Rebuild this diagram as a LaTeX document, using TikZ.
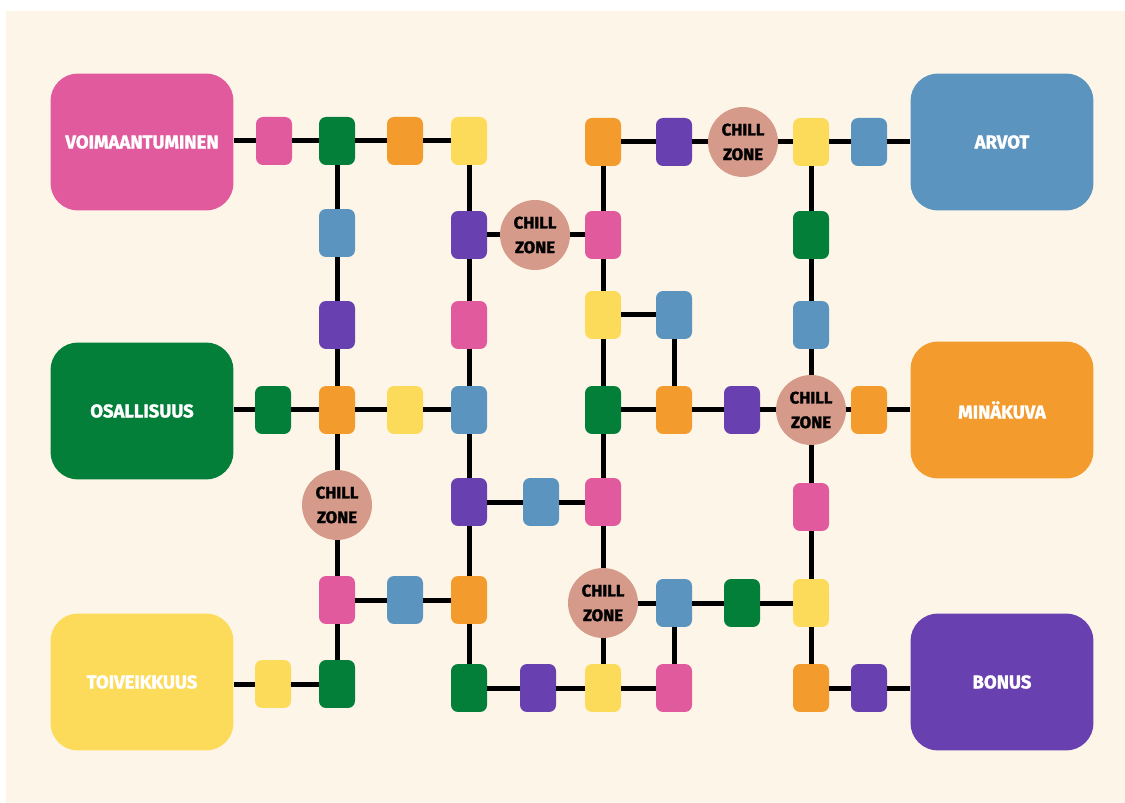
\documentclass[tikz,border=0pt]{standalone}
\usepackage{fontspec}
\setmainfont{Fira Sans}[BoldFeatures={FakeBold=1.6}]
\usepackage{tikz}
\usetikzlibrary{positioning,calc}
\definecolor{cream}{HTML}{FDF6E8}
\definecolor{pinkc}{HTML}{E25A9E}
\definecolor{greenc}{HTML}{037F3A}
\definecolor{orangec}{HTML}{F39B2D}
\definecolor{yellowc}{HTML}{FDDB5A}
\definecolor{bluec}{HTML}{5B94BF}
\definecolor{purplec}{HTML}{6840B0}
\definecolor{chillc}{HTML}{D59A89}

\begin{document}
\begin{tikzpicture}[x=0.02cm, y=-0.02cm, tile/.style = {rectangle, rounded corners=0.14cm, minimum width=0.72cm, minimum height=0.96cm, inner sep=0pt}, chill/.style = {circle, fill=chillc, minimum size=1.4cm, inner sep=0pt, align=center, font=\fontsize{9.5}{14}\selectfont\bfseries}, goal/.style = {rectangle, rounded corners=0.55cm, minimum width=3.66cm, minimum height=2.74cm, text=white, font=\fontsize{10.5}{12}\selectfont\bfseries}, every edge/.append style={line width=0.1cm, black}]

\fill[white] (0,0) rectangle (1125,803);
\fill[cream] (6,11) rectangle (1125,803);

% big boxes
\node[goal, fill = pinkc] (voima) at (142,142) {VOIMAANTUMINEN};
\node[goal, fill = greenc] (osal) at (142,411) {OSALLISUUS};
\node[goal, fill = yellowc] (toive) at (142,682) {TOIVEIKKUUS};
\node[goal, fill = bluec] (arvot) at (1002,142) {ARVOT};
\node[goal, fill = orangec] (mina) at (1002,410) {MINÄKUVA};
\node[goal, fill = purplec] (bonus) at (1002,682) {BONUS};

% tiles
\node[tile, fill = pinkc] (1) at (274,141) {};
\node[tile, fill = greenc] (2) at (337,141) {};
\node[tile, fill = orangec] (3) at (405,141) {};
\node[tile, fill = yellowc] (4) at (469,141) {};
\node[tile, fill = bluec] (5) at (337,233) {};
\node[tile, fill = purplec] (6) at (337,325) {};
\node[tile, fill = orangec] (7) at (337,410) {};
\node[tile, fill = greenc] (8) at (273,410) {};
\node[tile, fill = yellowc] (9) at (405,410) {};
\node[tile, fill = bluec] (10) at (469,410) {};
\node[tile, fill = purplec] (11) at (469,235) {};
\node[tile, fill = pinkc] (12) at (469,325) {};
\node[tile, fill = purplec] (13) at (469,502) {};
\node[tile, fill = orangec] (14) at (469,600) {};
\node[tile, fill = greenc] (15) at (469,688) {};
\node[tile, fill = pinkc] (16) at (337,600) {};
\node[tile, fill = bluec] (17) at (405,600) {};
\node[tile, fill = greenc] (18) at (337,684) {};
\node[tile, fill = yellowc] (19) at (273,684) {};
\node[tile, fill = bluec] (20) at (541,502) {};
\node[tile, fill = pinkc] (21) at (603,502) {};
\node[tile, fill = orangec] (22) at (603,142) {};
\node[tile, fill = pinkc] (23) at (603,235) {};
\node[tile, fill = yellowc] (24) at (603,315) {};
\node[tile, fill = bluec] (25) at (674,315) {};
\node[tile, fill = greenc] (26) at (603,410) {};
\node[tile, fill = orangec] (27) at (674,410) {};
\node[tile, fill = purplec] (28) at (742,410) {};
\node[tile, fill = orangec] (29) at (869,410) {};
\node[tile, fill = purplec] (30) at (674,142) {};
\node[tile, fill = yellowc] (31) at (811,142) {};
\node[tile, fill = bluec] (32) at (869,142) {};
\node[tile, fill = greenc] (33) at (811,235) {};
\node[tile, fill = bluec] (34) at (811,325) {};
\node[tile, fill = pinkc] (35) at (811,507) {};
\node[tile, fill = yellowc] (36) at (811,603) {};
\node[tile, fill = orangec] (37) at (811,688) {};
\node[tile, fill = purplec] (38) at (869,688) {};
\node[tile, fill = bluec] (39) at (674,603) {};
\node[tile, fill = greenc] (40) at (742,603) {};
\node[tile, fill = purplec] (41) at (538,688) {};
\node[tile, fill = yellowc] (42) at (603,688) {};
\node[tile, fill = pinkc] (43) at (674,688) {};

% chill zones
\node[chill] (c1) at (535,235) {CHILL\\ZONE};
\node[chill] (c2) at (743,142) {CHILL\\ZONE};
\node[chill] (c3) at (337,505) {CHILL\\ZONE};
\node[chill] (c4) at (811,410) {CHILL\\ZONE};
\node[chill] (c5) at (603,603) {CHILL\\ZONE};

\path
 (1) edge (1 -| voima.east)
 (1) edge (2)
 (2) edge (3)
 (3) edge (4)
 (2) edge (5)
 (5) edge (6)
 (6) edge (7)
 (7) edge (c3)
 (c3) edge (16)
 (16) edge (18)
 (8) edge (8 -| osal.east)
 (8) edge (7)
 (7) edge (9)
 (9) edge (10)
 (19) edge (19 -| toive.east)
 (19) edge (18)
 (4) edge (11)
 (11) edge (12)
 (12) edge (10)
 (10) edge (13)
 (13) edge (14)
 (14) edge (15)
 (11) edge (c1)
 (c1) edge (23)
 (16) edge (17)
 (17) edge (14)
 (13) edge (20)
 (20) edge (21)
 (22) edge (23)
 (23) edge (24)
 (24) edge (26)
 (26) edge (21)
 (21) edge (c5)
 (c5) edge (42)
 (24) edge (25)
 (25) edge (27)
 (26) edge (27)
 (27) edge (28)
 (28) edge (c4)
 (c4) edge (29)
 (29) edge (29 -| mina.west)
 (22) edge (30)
 (30) edge (c2)
 (c2) edge (31)
 (31) edge (32)
 (32) edge (32 -| arvot.west)
 (31) edge (33)
 (33) edge (34)
 (34) edge (c4)
 (c4) edge (35)
 (35) edge (36)
 (36) edge (37)
 (c5) edge (39)
 (39) edge (40)
 (40) edge (36)
 (39) edge (43)
 (15) edge (41)
 (41) edge (42)
 (42) edge (43)
 (37) edge (38)
 (38) edge (38 -| bonus.west);
\end{tikzpicture}
\end{document}
